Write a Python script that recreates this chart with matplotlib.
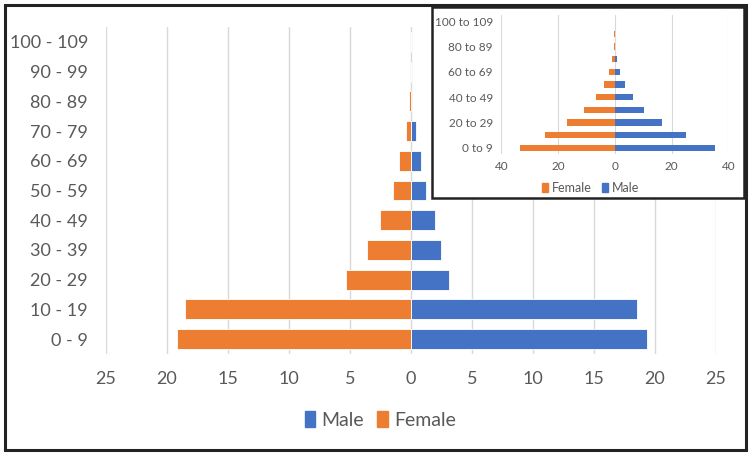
import matplotlib
matplotlib.use("Agg")
import matplotlib.pyplot as plt
from matplotlib.patches import Rectangle, Patch
from matplotlib.ticker import FuncFormatter

plt.rcParams['font.family'] = ['Lato', 'DejaVu Sans']

# Main chart data
main_categories = ["0 - 9", "10 - 19", "20 - 29", "30 - 39", "40 - 49", "50 - 59",
                   "60 - 69", "70 - 79", "80 - 89", "90 - 99", "100 - 109"]
main_male = [19.37, 18.54, 3.15, 2.48, 1.98, 1.27, 0.85, 0.39, 0.10, 0.0, 0.0]
main_female = [19.2, 18.5, 5.36, 3.64, 2.53, 1.49, 1.0, 0.38, 0.12, 0.0, 0.0]
main_ticks = [-25, -20, -15, -10, -5, 0, 5, 10, 15, 20, 25]

# Inset chart data
inset_categories = ["0 to 9", "10 to 19", "20 to 29", "30 to 39", "40 to 49", "50 to 59",
                    "60 to 69", "70 to 79", "80 to 89", "90 to 99", "100 to 109"]
inset_male = [35.3, 25.2, 16.5, 10.4, 6.5, 3.6, 1.9, 0.7, 0.2, 0.1, 0.0]
inset_female = [33.4, 24.5, 16.9, 10.7, 6.6, 3.9, 2.1, 1.1, 0.35, 0.15, 0.05]
inset_ticks = [-40, -20, 0, 20, 40]

BLUE = "#4472C4"
ORANGE = "#ED7D31"
GRID = "#D9D9D9"
TXT = "#595959"

fig = plt.figure(figsize=(7.5, 4.55), dpi=100)
fig.patch.set_facecolor("white")

absfmt = FuncFormatter(lambda v, p: f"{abs(v):g}")

# ---- main axes ----
ax = fig.add_axes([0.1413, 0.222, 0.8133, 0.7187])
y = list(range(len(main_categories)))
ax.barh(y, main_male, height=0.67, color=BLUE, edgecolor="white", linewidth=0.6, label="Male", zorder=3)
ax.barh(y, [-v for v in main_female], height=0.67, color=ORANGE, edgecolor="white", linewidth=0.6, label="Female", zorder=3)
ax.set_xlim(-25, 25)
ax.set_ylim(-0.5, len(main_categories) - 0.5)
ax.set_xticks(main_ticks)
ax.xaxis.set_major_formatter(absfmt)
ax.set_yticks(y)
ax.set_yticklabels(main_categories)
ax.grid(axis="x", color=GRID, linewidth=1.0, zorder=0)
for s in ax.spines.values():
    s.set_visible(False)
ax.tick_params(axis="both", length=0, colors=TXT, labelsize=13)
ax.tick_params(axis="x", pad=12)
ax.tick_params(axis="y", pad=13)
ax.legend(handles=[Patch(color=BLUE, label="Male"), Patch(color=ORANGE, label="Female")],
          loc="center", bbox_to_anchor=(0.507, 0.077), bbox_transform=fig.transFigure,
          ncol=2, frameon=False, fontsize=14, handlelength=0.55, handleheight=0.9,
          handletextpad=0.3, columnspacing=0.7, labelcolor=TXT)

# ---- outer frame ----
fig.patches.append(Rectangle((0.006, 0.01), 0.988, 0.98, transform=fig.transFigure,
                             fill=False, edgecolor="#222222", linewidth=2.2, zorder=10))

# ---- inset box ----
fig.patches.append(Rectangle((0.576, 0.5648), 0.416, 0.4198, transform=fig.transFigure,
                             facecolor="white", edgecolor="#222222", linewidth=1.8, zorder=5))

ax2 = fig.add_axes([0.6684, 0.661, 0.3027, 0.306])
ax2.set_zorder(6)
ax2.patch.set_alpha(0)
yi = list(range(len(inset_categories)))
ax2.barh(yi, inset_male, height=0.5, color=BLUE, zorder=3)
ax2.barh(yi, [-v for v in inset_female], height=0.5, color=ORANGE, zorder=3)
ax2.set_xlim(-40, 40)
ax2.set_ylim(-0.5, len(inset_categories) - 0.5)
ax2.set_xticks(inset_ticks)
ax2.xaxis.set_major_formatter(absfmt)
ax2.set_yticks(yi[::2])
ax2.set_yticklabels(inset_categories[::2])
ax2.grid(axis="x", color=GRID, linewidth=0.8, zorder=0)
for s in ax2.spines.values():
    s.set_visible(False)
ax2.tick_params(axis="both", length=0, colors=TXT, labelsize=8.5)
ax2.tick_params(axis="x", pad=5)
ax2.tick_params(axis="y", pad=6)
ax2.legend(handles=[Patch(color=ORANGE, label="Female"), Patch(color=BLUE, label="Male")],
           loc="center", bbox_to_anchor=(0.787, 0.587), bbox_transform=fig.transFigure,
           ncol=2, frameon=False, fontsize=9, handlelength=0.5, handleheight=0.8,
           handletextpad=0.3, columnspacing=0.8, labelcolor=TXT)

fig.savefig("out.png", dpi=100)
